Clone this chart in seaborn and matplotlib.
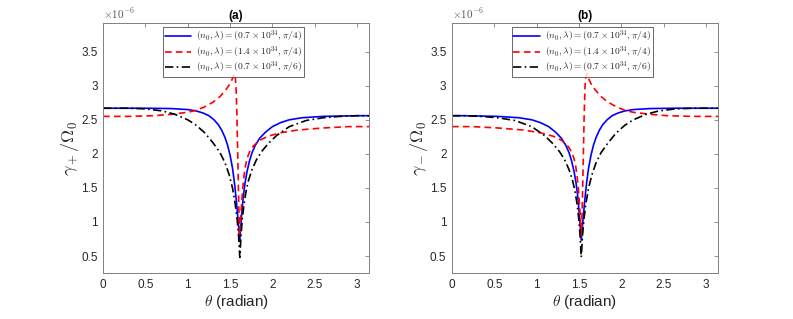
import matplotlib
matplotlib.use("Agg")
import matplotlib.pyplot as plt
import seaborn as sns

# values in units of 1e-6
# panel (a): gamma_+ / Omega_0
theta_a_blue = [0, 0.5, 0.8, 1.0, 1.1, 1.18, 1.25, 1.31, 1.36, 1.40, 1.44, 1.47, 1.50, 1.53,
                1.555, 1.575, 1.595, 1.615, 1.635, 1.655, 1.675, 1.70, 1.73, 1.76, 1.80,
                1.85, 1.92, 2.0, 2.1, 2.2, 2.35, 2.6, 3.0, 3.1416]
gamma_a_blue = [2.67, 2.67, 2.665, 2.65, 2.63, 2.60, 2.56, 2.50, 2.43, 2.35, 2.24, 2.13, 1.98, 1.78,
                1.54, 1.30, 1.02, 0.73, 1.08, 1.36, 1.56, 1.74, 1.90, 2.02, 2.13,
                2.23, 2.32, 2.40, 2.46, 2.50, 2.53, 2.55, 2.56, 2.56]

theta_a_red = [0, 0.3, 0.6, 0.8, 1.0, 1.1, 1.2, 1.3, 1.38, 1.45, 1.5, 1.53, 1.548, 1.56,
               1.57, 1.58, 1.59, 1.60, 1.612, 1.622, 1.635, 1.65, 1.665, 1.68, 1.70,
               1.73, 1.77, 1.85, 1.95, 2.1, 2.3, 2.6, 2.9, 3.1416]
gamma_a_red = [2.55, 2.55, 2.56, 2.58, 2.61, 2.64, 2.69, 2.76, 2.84, 2.94, 3.03, 3.11, 3.18, 3.14,
               3.0, 2.6, 2.0, 1.4, 0.8, 1.0, 1.25, 1.50, 1.68, 1.81, 1.93,
               2.03, 2.11, 2.20, 2.26, 2.31, 2.35, 2.38, 2.40, 2.40]

theta_a_black = [0, 0.3, 0.5, 0.7, 0.85, 1.0, 1.1, 1.2, 1.3, 1.38, 1.44, 1.49, 1.53, 1.56,
                 1.585, 1.60, 1.615, 1.63, 1.645, 1.665, 1.69, 1.72, 1.76, 1.81, 1.87,
                 1.95, 2.05, 2.2, 2.4, 2.6, 2.8, 3.0, 3.1416]
gamma_a_black = [2.67, 2.67, 2.66, 2.63, 2.58, 2.50, 2.42, 2.31, 2.16, 2.02, 1.87, 1.69, 1.49, 1.27,
                 1.02, 0.80, 0.48, 0.82, 1.05, 1.27, 1.46, 1.62, 1.77, 1.91, 2.03,
                 2.15, 2.27, 2.40, 2.49, 2.53, 2.55, 2.56, 2.56]

# panel (b): gamma_- / Omega_0
theta_b_blue = [0, 0.1416, 0.5416, 0.7916, 0.9416, 1.0416, 1.1416, 1.2216, 1.2916, 1.3416,
                1.3816, 1.4116, 1.4416, 1.4666, 1.4866, 1.5066, 1.5266, 1.5466, 1.5666,
                1.5866, 1.6116, 1.6416, 1.6716, 1.7016, 1.7416, 1.7816, 1.8316, 1.8916,
                1.9616, 2.0416, 2.1416, 2.3416, 2.6416, 3.1416]
gamma_b_blue = [2.56, 2.56, 2.55, 2.53, 2.50, 2.46, 2.40, 2.32, 2.23, 2.13,
                2.02, 1.90, 1.74, 1.56, 1.36, 1.08, 0.73, 1.02, 1.30,
                1.54, 1.78, 1.98, 2.13, 2.24, 2.35, 2.43, 2.50, 2.56,
                2.60, 2.63, 2.65, 2.665, 2.67, 2.67]

theta_b_red = [0, 0.2416, 0.5416, 0.8416, 1.0416, 1.1916, 1.2916, 1.3716, 1.4116, 1.4416,
               1.4616, 1.4766, 1.4916, 1.5066, 1.5196, 1.5296, 1.5416, 1.5516, 1.5616,
               1.5716, 1.5816, 1.5936, 1.6116, 1.6416, 1.6916, 1.7616, 1.8416, 1.9416,
               2.0416, 2.1416, 2.3416, 2.5416, 2.8416, 3.1416]
gamma_b_red = [2.40, 2.40, 2.38, 2.35, 2.31, 2.26, 2.20, 2.11, 2.03, 1.93,
               1.81, 1.68, 1.50, 1.25, 1.0, 0.8, 1.4, 2.0, 2.6,
               3.0, 3.14, 3.18, 3.11, 3.03, 2.94, 2.84, 2.76, 2.69,
               2.64, 2.61, 2.58, 2.56, 2.55, 2.55]

theta_b_black = [0, 0.1416, 0.3416, 0.5416, 0.7416, 0.9416, 1.0916, 1.1916, 1.2716, 1.3316,
                 1.3816, 1.4216, 1.4516, 1.4766, 1.4966, 1.5116, 1.5266, 1.5416, 1.5566,
                 1.5816, 1.6116, 1.6516, 1.7016, 1.7616, 1.8416, 1.9416, 2.0416, 2.1416,
                 2.2916, 2.4416, 2.6416, 2.8416, 3.1416]
gamma_b_black = [2.56, 2.56, 2.55, 2.53, 2.49, 2.40, 2.27, 2.15, 2.03, 1.91,
                 1.77, 1.62, 1.46, 1.27, 1.05, 0.82, 0.48, 0.80, 1.02,
                 1.27, 1.49, 1.69, 1.87, 2.02, 2.16, 2.31, 2.42, 2.50,
                 2.58, 2.63, 2.66, 2.67, 2.67]

legend_labels = [r'$(n_0,\lambda)=(0.7\times10^{34},\pi/4)$',
                 r'$(n_0,\lambda)=(1.4\times10^{34},\pi/4)$',
                 r'$(n_0,\lambda)=(0.7\times10^{34},\pi/6)$']

sns.set_style("white")
plt.rcParams['font.family'] = ['Liberation Sans', 'DejaVu Sans']
plt.rcParams['mathtext.fontset'] = 'cm'

edge = '#262626'
fig = plt.figure(figsize=(7.93, 3.19), dpi=100)
ax_a = fig.add_axes([0.130, 0.144, 0.3354, 0.7837])
ax_b = fig.add_axes([0.570, 0.144, 0.3354, 0.7837])

panels = [
    (ax_a, '(a)', r'$\gamma_+/\Omega_0$',
     [(theta_a_blue, gamma_a_blue), (theta_a_red, gamma_a_red), (theta_a_black, gamma_a_black)]),
    (ax_b, '(b)', r'$\gamma_-/\Omega_0$',
     [(theta_b_blue, gamma_b_blue), (theta_b_red, gamma_b_red), (theta_b_black, gamma_b_black)]),
]
colors = ['#0000ff', '#ff0000', '#000000']
dashes = [None, (4, 2.5), (5, 2, 1, 2)]

for ax, title, ylab, series in panels:
    for (x, y), c, dash, lab in zip(series, colors, dashes, legend_labels):
        sns.lineplot(x=x, y=y, ax=ax, color=c, linewidth=1.2, label=lab,
                     estimator=None, sort=False)
        if dash is not None:
            ax.lines[-1].set_dashes(dash)
    ax.set_xlim(0, 3.1416)
    ax.set_ylim(0.25, 3.92)
    ax.set_xticks([0, 0.5, 1, 1.5, 2, 2.5, 3])
    ax.set_xticklabels(['0', '0.5', '1', '1.5', '2', '2.5', '3'])
    ax.set_yticks([0.5, 1, 1.5, 2, 2.5, 3, 3.5])
    ax.set_yticklabels(['0.5', '1', '1.5', '2', '2.5', '3', '3.5'])
    ax.tick_params(direction='in', length=3, width=0.6, colors='#808080', labelsize=8.5,
                   top=True, right=True, pad=4, labelcolor=edge)
    for sp in ax.spines.values():
        sp.set_color('#808080')
        sp.set_linewidth(0.7)
    ax.set_title(title, fontsize=8.5, fontweight='bold', pad=3, color='#000000')
    ax.set_xlabel(r'$\theta$ (radian)', fontsize=11, color=edge, labelpad=2)
    ax.set_ylabel(ylab, fontsize=13, color=edge, labelpad=0)
    ax.text(0.0, 1.01, r'$\times10^{-6}$', transform=ax.transAxes, fontsize=8,
            color='#555555', ha='left', va='bottom')
    leg = ax.legend(loc='upper center', fontsize=6.9, frameon=True, fancybox=False,
                    edgecolor=edge, handlelength=2.8, borderpad=0.15, labelspacing=0.0,
                    handletextpad=0.5, borderaxespad=0.45, bbox_to_anchor=(0.49, 1.0))
    leg.get_frame().set_linewidth(0.6)

fig.savefig('out.png', dpi=100)
